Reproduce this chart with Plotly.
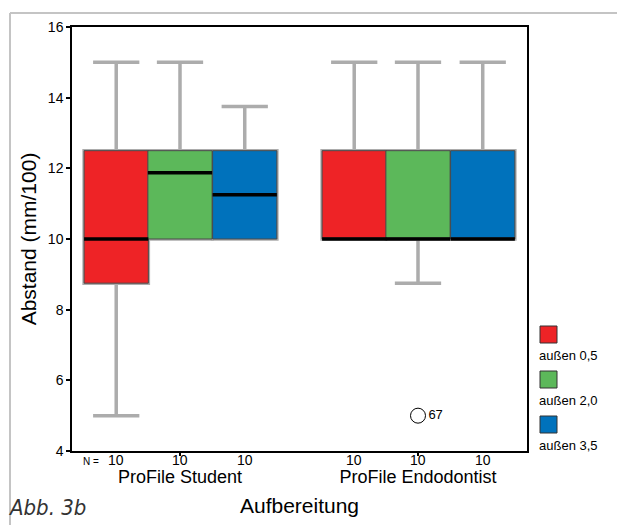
import plotly.graph_objects as go

groups = ["ProFile Student", "ProFile Endodontist"]
series = ["außen 0,5", "außen 2,0", "außen 3,5"]
colors = ["#ee2326", "#5cb85a", "#0072bc"]
n_counts = [[10, 10, 10], [10, 10, 10]]  # per group, per series

# stats per series: [Student, Endodontist]
lowerfence = [[5.0, 10.0], [10.0, 8.75], [10.0, 10.0]]
q1 = [[8.75, 10.0], [10.0, 10.0], [10.0, 10.0]]
median = [[10.0, 10.0], [11.875, 10.0], [11.25, 10.0]]
q3 = [[12.5, 12.5], [12.5, 12.5], [12.5, 12.5]]
upperfence = [[15.0, 15.0], [15.0, 15.0], [13.75, 15.0]]

outlier_series = 1
outlier_group = 1
outlier_value = 5.0
outlier_label = "67"

offsets = [-0.268, 0.0, 0.272]
box_w = 0.27

FONT = "Liberation Sans"

fig = go.Figure()

# whisker layer
for s in range(3):
    xs = [g + offsets[s] for g in range(2)]
    fig.add_trace(go.Box(
        x=xs, q1=q1[s], median=median[s], q3=q3[s],
        lowerfence=lowerfence[s], upperfence=upperfence[s],
        width=box_w, whiskerwidth=0.72,
        line=dict(color="#acacac", width=3.5),
        fillcolor="rgba(0,0,0,0)", boxpoints=False, showlegend=False,
        hoverinfo="skip"))

# box layer
for s in range(3):
    xs = [g + offsets[s] for g in range(2)]
    fig.add_trace(go.Box(
        x=xs, q1=q1[s], median=median[s], q3=q3[s],
        lowerfence=q1[s], upperfence=q3[s],
        width=box_w, whiskerwidth=0,
        line=dict(color="#4a4a4a", width=1),
        fillcolor=colors[s], boxpoints=False, showlegend=False,
        name=series[s]))

# medians
mx, my = [], []
for s in range(3):
    for g in range(2):
        c = g + offsets[s]
        mx += [c - box_w / 2, c + box_w / 2, None]
        my += [median[s][g], median[s][g], None]
fig.add_trace(go.Scatter(x=mx, y=my, mode="lines",
                         line=dict(color="black", width=3.5),
                         showlegend=False, hoverinfo="skip"))

# outlier
fig.add_trace(go.Scatter(
    x=[outlier_group + offsets[outlier_series]], y=[outlier_value],
    mode="markers+text", text=[outlier_label], textposition="middle right",
    textfont=dict(size=13, color="black", family=FONT),
    marker=dict(symbol="circle-open", size=15, color="black", line=dict(width=1)),
    showlegend=False))

L, R, T, B = 72, 90, 27, 74
W, H = 617, 525
pw, ph = W - L - R, H - T - B


def px_x(p):
    return (p - L) / pw


def px_y(p):
    return (T + ph - p) / ph


annotations = []
# N counts
for g in range(2):
    for s in range(3):
        annotations.append(dict(
            x=g + offsets[s], y=px_y(460), xref="x", yref="paper",
            text=str(n_counts[g][s]), showarrow=False, yanchor="middle",
            font=dict(size=14, color="black", family=FONT)))
annotations.append(dict(x=px_x(81), y=px_y(461), xref="paper", yref="paper",
                        text="N =", showarrow=False, yanchor="middle",
                        font=dict(size=10, color="black", family=FONT)))
annotations.append(dict(x=px_x(6), y=px_y(507), xref="paper", yref="paper",
                        text="Abb. 3b", showarrow=False, xanchor="left", yanchor="middle",
                        font=dict(size=22, color="#333333", family="DejaVu Sans Condensed",
                                  style="italic")))

shapes = [
    dict(type="line", xref="paper", yref="paper", x0=px_x(10), x1=px_x(617),
         y0=px_y(13), y1=px_y(13), line=dict(color="#c4c4c4", width=2)),
    dict(type="line", xref="paper", yref="paper", x0=px_x(10), x1=px_x(10),
         y0=px_y(13), y1=px_y(525), line=dict(color="#c4c4c4", width=2)),
]

# legend (square above label)
leg_tops = [326, 371, 416]
for s in range(3):
    top = leg_tops[s]
    shapes.append(dict(type="rect", xref="paper", yref="paper",
                       x0=px_x(540), x1=px_x(557), y0=px_y(top), y1=px_y(top + 17),
                       fillcolor=colors[s], line=dict(color="#333333", width=1)))
    annotations.append(dict(x=px_x(537), y=px_y(top + 29), xref="paper", yref="paper",
                            text=series[s], showarrow=False, xanchor="left",
                            yanchor="middle",
                            font=dict(size=13, color="black", family=FONT)))

fig.update_layout(
    width=W, height=H,
    margin=dict(l=L, r=R, t=T, b=B),
    paper_bgcolor="white", plot_bgcolor="white",
    boxmode="overlay",
    showlegend=False,
    shapes=shapes,
    annotations=annotations,
    font=dict(family=FONT, color="black"),
    xaxis=dict(
        range=[-0.4538, 1.458], tickvals=[0, 1], ticktext=groups,
        ticks="outside", ticklen=3, tickwidth=2, tickcolor="black",
        ticklabelstandoff=6,
        tickfont=dict(size=18, family=FONT),
        showline=True, linecolor="black", linewidth=1.5, mirror=True,
        showgrid=False, zeroline=False,
        title=dict(text="Aufbereitung", font=dict(size=21), standoff=12),
    ),
    yaxis=dict(
        range=[4, 16], tickvals=[4, 6, 8, 10, 12, 14, 16],
        ticks="outside", ticklen=4, tickwidth=2, tickcolor="black",
        tickfont=dict(size=14, family=FONT),
        showline=True, linecolor="black", linewidth=1.5, mirror=True,
        showgrid=False, zeroline=False,
        title=dict(text="Abstand (mm/100)", font=dict(size=21), standoff=6),
    ),
)

fig.write_html("out.html")
